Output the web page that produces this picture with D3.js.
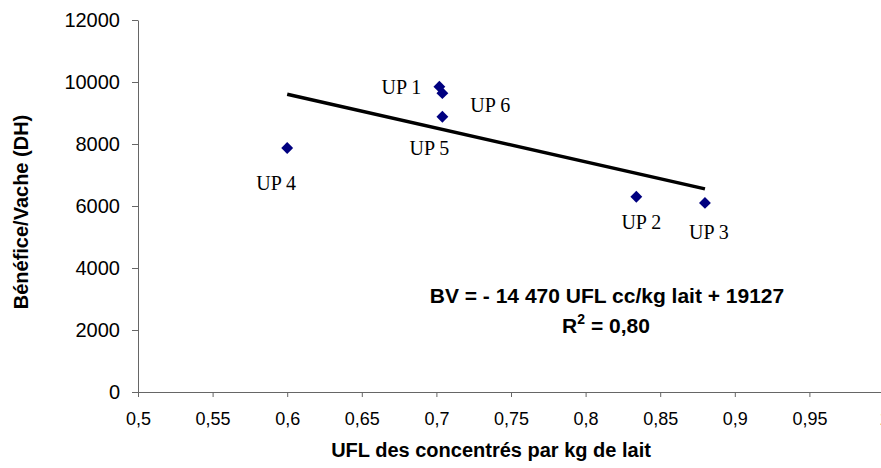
<!DOCTYPE html>
<html>
<head>
<meta charset="utf-8">
<script src="https://cdn.jsdelivr.net/npm/d3@7"></script>
<style>
  body { margin: 0; background: #fff; }
  svg { display: block; }
  .axis path, .axis line { stroke: #666; }
  .axis text { font-family: "Liberation Sans", Arial, sans-serif; fill: #000; }
</style>
</head>
<body>
<svg id="chart"></svg>
<script>
// data
const farms = ["UP 1", "UP 2", "UP 3", "UP 4", "UP 5", "UP 6"];
const uflConc = [0.702, 0.834, 0.880, 0.600, 0.704, 0.704];
const benefit = [9850, 6300, 6100, 7870, 8880, 9640];
const xTicks = [0.5, 0.55, 0.6, 0.65, 0.7, 0.75, 0.8, 0.85, 0.9, 0.95, 1];
const yTicks = [0, 2000, 4000, 6000, 8000, 10000, 12000];
const equation = "BV = - 14 470 UFL cc/kg lait + 19127";
const r2 = "0,80";

const width = 881, height = 468;
const margin = { top: 20, right: -3, bottom: 76, left: 138 };

const svg = d3.select("#chart").attr("width", width).attr("height", height);

const x = d3.scaleLinear().domain([0.5, 1]).range([margin.left, width - margin.right]);
const y = d3.scaleLinear().domain([0, 12000]).range([height - margin.bottom, margin.top]);

const fr = d3.formatLocale({ decimal: ",", thousands: " ", grouping: [3], currency: ["", ""] });
const fmtX = fr.format("");

// axes
const xAxis = svg.append("g")
    .attr("class", "axis")
    .attr("transform", `translate(0, ${y(0)})`)
    .call(d3.axisBottom(x).tickValues(xTicks).tickFormat(fmtX).tickSize(5).tickSizeOuter(0));
xAxis.selectAll("text").attr("dy", null).attr("y", 33).style("font-size", "18px");

const yAxis = svg.append("g")
    .attr("class", "axis")
    .attr("transform", `translate(${x(0.5)}, 0)`)
    .call(d3.axisLeft(y).tickValues(yTicks).tickFormat(d3.format("d")).tickSize(6).tickPadding(12).tickSizeOuter(0));
yAxis.selectAll("text").style("font-size", "20px");

// least squares trend line over the data range
const mx = d3.mean(uflConc), my = d3.mean(benefit);
const sxy = d3.sum(uflConc, (v, i) => (v - mx) * (benefit[i] - my));
const sxx = d3.sum(uflConc, v => (v - mx) * (v - mx));
const slope = sxy / sxx, icpt = my - slope * mx;
const xr = d3.extent(uflConc);

svg.append("path")
    .datum(xr)
    .attr("fill", "none")
    .attr("stroke", "#000")
    .attr("stroke-width", 3.5)
    .attr("d", d3.line().x(d => x(d)).y(d => y(slope * d + icpt)));

// points
const pts = farms.map((f, i) => ({ name: f, ufl: uflConc[i], bv: benefit[i] }));

svg.append("g").selectAll("path")
    .data(pts)
    .join("path")
    .attr("transform", d => `translate(${x(d.ufl)}, ${y(d.bv)})`)
    .attr("d", d3.symbol(d3.symbolDiamond2, 90))
    .attr("fill", "#000080");

// label placement next to each point
const labelPos = {
    "UP 1": { dx: -18, dy: 7, anchor: "end" },
    "UP 2": { dx: 5, dy: 32, anchor: "middle" },
    "UP 3": { dx: 4, dy: 36, anchor: "middle" },
    "UP 4": { dx: -11, dy: 42, anchor: "middle" },
    "UP 5": { dx: -13, dy: 38, anchor: "middle" },
    "UP 6": { dx: 28, dy: 19, anchor: "start" }
};

svg.append("g").selectAll("text")
    .data(pts)
    .join("text")
    .attr("x", d => x(d.ufl) + labelPos[d.name].dx)
    .attr("y", d => y(d.bv) + labelPos[d.name].dy)
    .attr("text-anchor", d => labelPos[d.name].anchor)
    .style("font-family", "'Liberation Serif', 'Times New Roman', serif")
    .style("font-size", "20px")
    .text(d => d.name);

// equation
const eq = svg.append("g")
    .style("font-family", "'Liberation Sans', Arial, sans-serif")
    .style("font-weight", "bold")
    .style("font-size", "21px")
    .attr("text-anchor", "middle");

eq.append("text").attr("x", 607).attr("y", 303).text(equation);
const r2t = eq.append("text").attr("x", 606).attr("y", 333);
r2t.append("tspan").text("R");
r2t.append("tspan").attr("dy", -9).style("font-size", "14px").text("2");
r2t.append("tspan").attr("dy", 9).text(" = " + r2);

// axis titles
svg.append("text")
    .attr("x", 491)
    .attr("y", 457)
    .attr("text-anchor", "middle")
    .style("font-family", "'Liberation Sans', Arial, sans-serif")
    .style("font-weight", "bold")
    .style("font-size", "20px")
    .text("UFL des concentrés par kg de lait");

svg.append("text")
    .attr("transform", "translate(28, 212) rotate(-90)")
    .attr("text-anchor", "middle")
    .style("font-family", "'Liberation Sans', Arial, sans-serif")
    .style("font-weight", "bold")
    .style("font-size", "20px")
    .text("Bénéfice/Vache (DH)");
</script>
</body>
</html>
